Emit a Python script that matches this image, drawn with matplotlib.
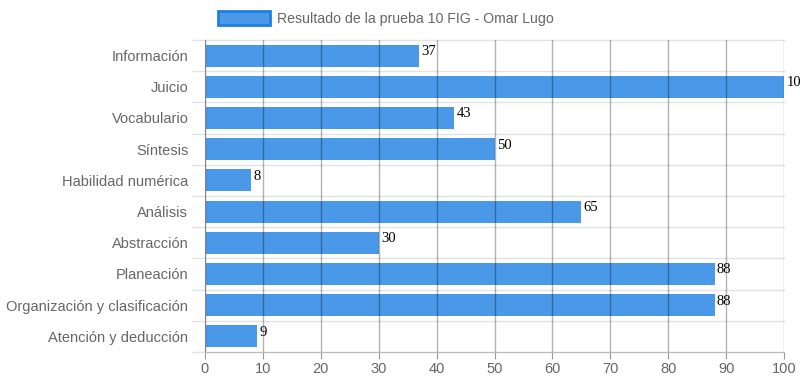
import matplotlib.pyplot as plt
from matplotlib.patches import Patch

categorias = ['Información', 'Juicio', 'Vocabulario', 'Síntesis', 'Habilidad numérica',
              'Análisis', 'Abstracción', 'Planeación', 'Organización y clasificación',
              'Atención y deducción']
valores = [37, 100, 43, 50, 8, 65, 30, 88, 88, 9]
ticks_x = [0, 10, 20, 30, 40, 50, 60, 70, 80, 90, 100]
serie = 'Resultado de la prueba 10 FIG - Omar Lugo'

azul = '#4a98e8'
gris = '#666666'

plt.rcParams['font.family'] = ['Liberation Sans', 'DejaVu Sans']

fig = plt.figure(figsize=(8, 3.86), dpi=100)
ax = fig.add_axes([0.25625, 0.0881, 0.72375, 0.8083])

pos = list(range(len(categorias)))
ax.barh(pos, valores, height=0.7, color=azul, zorder=2)
ax.set_ylim(len(categorias) - 0.5, -0.5)
ax.set_xlim(0, 100)

# rejilla vertical
for t in ticks_x:
    ax.axvline(t, color='black', alpha=0.3, lw=1, zorder=3)
# rejilla horizontal entre categorías
for i in range(len(categorias) + 1):
    ax.axhline(i - 0.5, color='#e3e3e3', lw=1, zorder=1, xmin=-0.022, clip_on=False)

for p, v in zip(pos, valores):
    ax.text(v + 0.4, p - 0.13, str(v), family='Liberation Serif', fontsize=10.5,
            color='black', va='center', ha='left', zorder=4, clip_on=False)

ax.set_yticks(pos)
ax.set_yticklabels(categorias, fontsize=10.5, color=gris)
ax.set_xticks(ticks_x)
ax.set_xticklabels([str(t) for t in ticks_x], fontsize=10.5, color=gris)
ax.tick_params(axis='y', length=0, pad=12)
ax.tick_params(axis='x', length=5, color='#999999', pad=2)

for s in ['top', 'right']:
    ax.spines[s].set_visible(False)
ax.spines['left'].set_color('#bbbbbb')
ax.spines['bottom'].set_color('#bbbbbb')

fig.legend(handles=[Patch(facecolor=azul, edgecolor='#1f7fe0', lw=2)], labels=[serie],
           loc='center left', bbox_to_anchor=(0.256, 0.952), frameon=False,
           fontsize=10.2, labelcolor=gris, handlelength=3.7, handleheight=1.1,
           handletextpad=0.5)

fig.savefig('out.png', dpi=100)
